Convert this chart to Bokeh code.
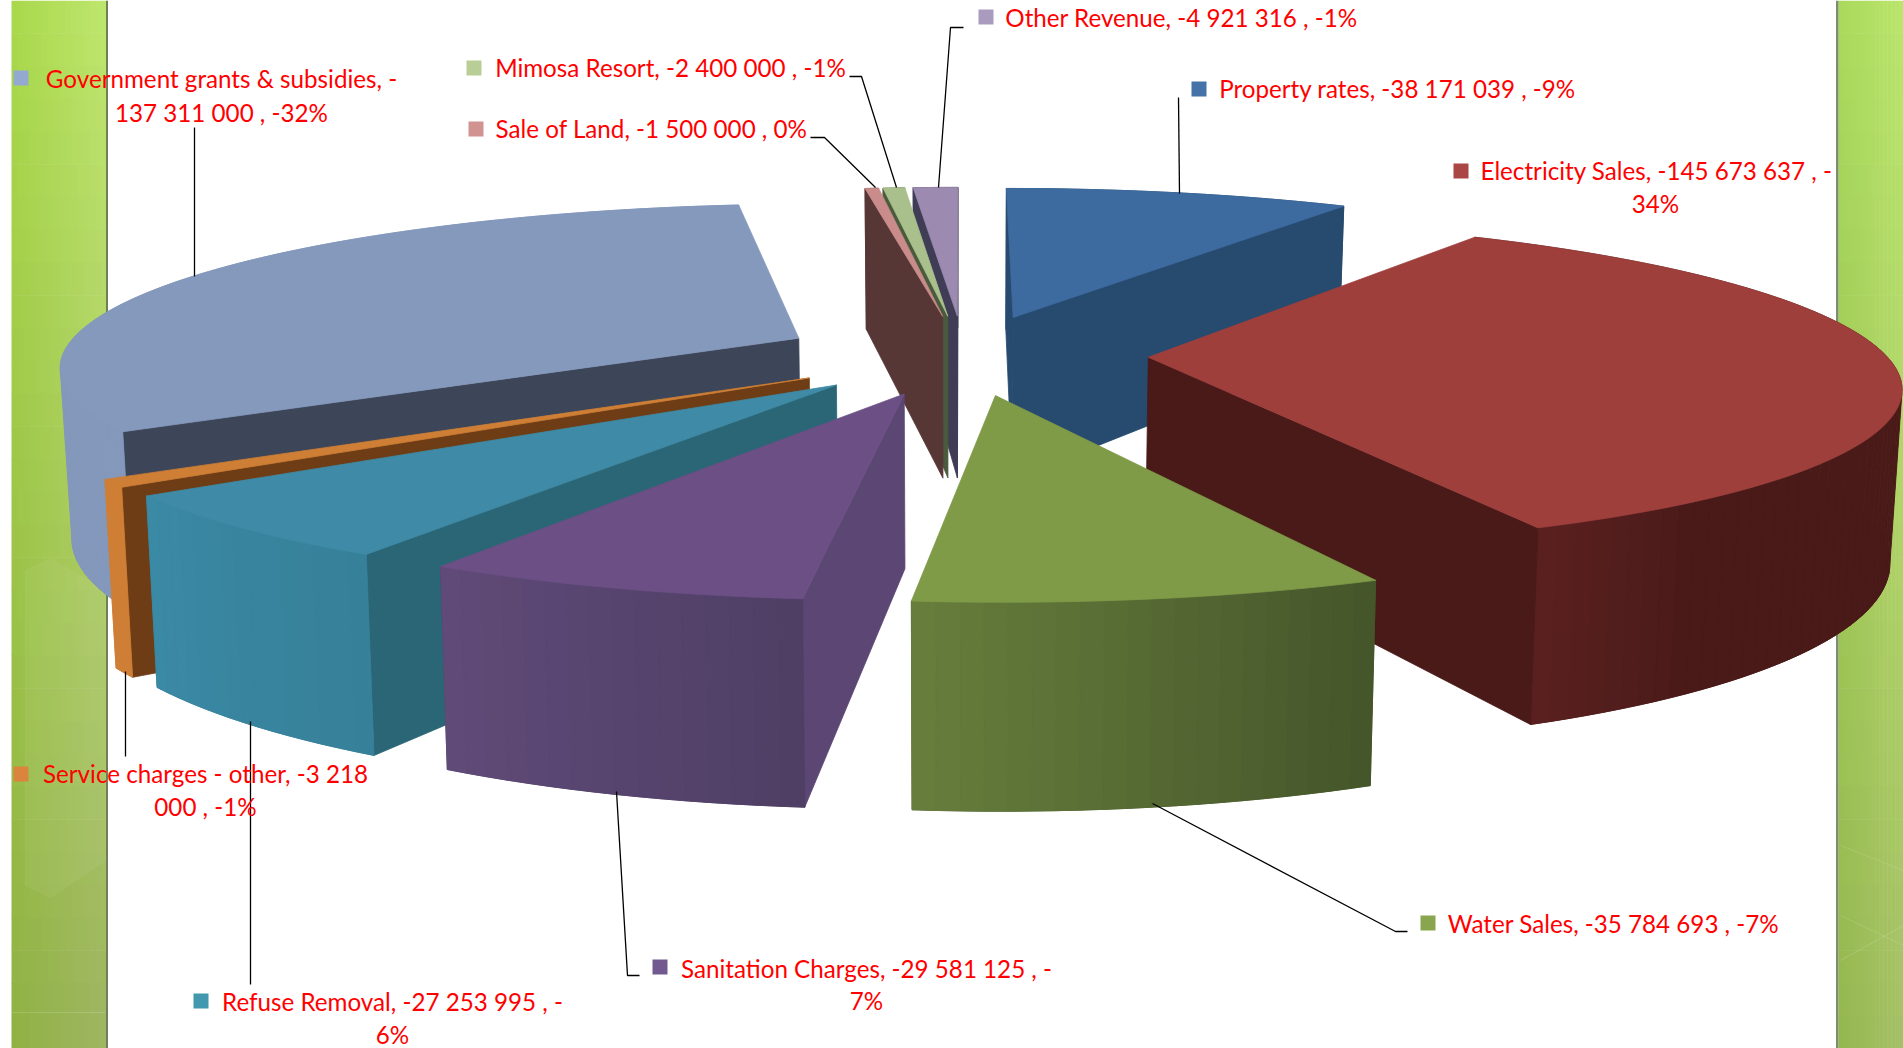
import math
from bokeh.plotting import figure
from bokeh.models import Range1d
from bokeh.core.properties import value
from bokeh.embed import file_html
from bokeh.resources import INLINE

# Revenue categories, clockwise from twelve o'clock
categories = ["Property rates", "Electricity Sales", "Water Sales", "Sanitation Charges",
              "Refuse Removal", "Service charges - other", "Government grants & subsidies",
              "Sale of Land", "Mimosa Resort", "Other Revenue"]
amounts = [-38171039, -145673637, -35784693, -29581125, -27253995,
           -3218000, -137311000, -1500000, -2400000, -4921316]
amount_labels = ["-38 171 039", "-145 673 637", "-35 784 693", "-29 581 125", "-27 253 995",
                 "-3 218 000", "-137 311 000", "-1 500 000", "-2 400 000", "-4 921 316"]
percent_labels = ["-9%", "-34%", "-7%", "-7%", "-6%", "-1%", "-32%", "0%", "-1%", "-1%"]

# Colours per slice: legend key, top face, radial wall, outer wall start and end
key_colors = ["#4572a7", "#aa4643", "#89a54e", "#71588f", "#4198af",
              "#db843d", "#93a9cf", "#d19392", "#b9cd96", "#a99bbd"]
top_colors = ["#3e6b9f", "#9e3f3c", "#7f9b48", "#6b4f85", "#3f8aa6",
              "#cf7f35", "#8599bd", "#c98c8a", "#a9c08c", "#9c8ab0"]
side_colors = ["#274a6f", "#4a1a18", "#46572a", "#5b4674", "#2a6676",
               "#6e3d15", "#3d4558", "#573636", "#4a5a3c", "#3f3c55"]
rim_colors = [("#274a6f", "#274a6f"), ("#5a2020", "#4a1a19"), ("#667d3c", "#45562a"),
              ("#604a78", "#4f3f65"), ("#3a89a5", "#378099"), ("#cf7f35", "#cf7f35"),
              ("#8296bf", "#8498bc"), ("#573636", "#573636"), ("#4a5a3c", "#4a5a3c"),
              ("#3f3c55", "#3f3c55")]
# Share of the rim width over which the shading fades, measured from its left end
rim_fade = [1, 0.1, 1, 1, 1, 1, 1, 1, 1, 1]

# Painter's order of the slices, far ones first
draw_order = [0, 1, 9, 8, 7, 6, 5, 4, 3, 2]

# Perspective camera and the exploded pie on the ground plane
CX, HORIZON, FOCAL, DEPTH = 961.0, -667.5, 4709.0, 1213.6
CENTER_U, CENTER_V = 0.0006, 1.188
EXPLODE, RADIUS = 0.0465, 0.186
DROP, PINCH = 1.1646, 0.987


def project(u, v, lower=False):
    sx = CX + FOCAL * u / v
    d = DEPTH / v
    if lower:
        sx = CX + PINCH * (sx - CX)
        d *= DROP
    return sx, HORIZON + d


def mix(a, b, t):
    ca = [int(a[i:i + 2], 16) for i in (1, 3, 5)]
    cb = [int(b[i:i + 2], 16) for i in (1, 3, 5)]
    return "#%02x%02x%02x" % tuple(round(x + (y - x) * t) for x, y in zip(ca, cb))


def signed_area(xs, ys):
    return sum(xs[i] * ys[(i + 1) % len(xs)] - xs[(i + 1) % len(xs)] * ys[i] for i in range(len(xs))) / 2


magnitudes = [abs(a) for a in amounts]
total = sum(magnitudes)
poly_x, poly_y, poly_c = [], [], []
start = 0.0
spans = []
for m in magnitudes:
    spans.append((start, start + 360.0 * m / total))
    start += 360.0 * m / total

for i in draw_order:
    a0, a1 = spans[i]
    mid = math.radians((a0 + a1) / 2)
    au = CENTER_U + EXPLODE * math.sin(mid)
    av = CENTER_V + EXPLODE * math.cos(mid)
    n = max(int((a1 - a0) / 1.5), 2)
    world = [(au, av)]
    for k in range(n + 1):
        t = math.radians(a0 + (a1 - a0) * k / n)
        world.append((au + RADIUS * math.sin(t), av + RADIUS * math.cos(t)))
    top = [project(u, v) for u, v in world]
    low = [project(u, v, True) for u, v in world]
    top_x = [q[0] for q in top]
    top_y = [q[1] for q in top]
    orient = signed_area(top_x, top_y)
    count = len(world)
    # solid rim underneath, so the shaded facets leave no seams
    poly_x.append(top_x[1:] + [q[0] for q in low[:0:-1]])
    poly_y.append(top_y[1:] + [q[1] for q in low[:0:-1]])
    poly_c.append(rim_colors[i][1])
    for k in range(count):
        j = (k + 1) % count
        qx = [top[k][0], top[j][0], low[j][0], low[k][0]]
        qy = [top[k][1], top[j][1], low[j][1], low[k][1]]
        if signed_area(qx, qy) * orient >= 0:
            continue
        if k == 0 or k == count - 1:
            colour = side_colors[i]
        else:
            # rim shading runs left to right across the screen
            frac = (k - 1) / max(n - 1, 1)
            along = frac if qx[0] < qx[1] else 1 - frac
            colour = mix(rim_colors[i][0], rim_colors[i][1], min(1, along / rim_fade[i]))
        poly_x.append(qx)
        poly_y.append(qy)
        poly_c.append(colour)
    poly_x.append(top_x)
    poly_y.append(top_y)
    poly_c.append(top_colors[i])

p = figure(width=1903, height=1048, output_backend="svg", toolbar_location=None,
           x_range=Range1d(0, 1903), y_range=Range1d(1048, 0), min_border=0)
p.axis.visible = False
p.grid.visible = False
p.outline_line_color = None
p.background_fill_color = "white"
p.border_fill_color = "white"


# Green side bands of the slide
def band(x0, x1, tl, tr, bl, br, cols=16, rows=32):
    ql, qr, qt, qb, qc = [], [], [], [], []
    for r in range(rows):
        ty_ = (r + 0.5) / rows
        left, right = mix(tl, bl, ty_), mix(tr, br, ty_)
        for c in range(cols):
            ql.append(x0 + (x1 - x0) * c / cols)
            qr.append(x0 + (x1 - x0) * (c + 1) / cols + 0.5)
            qt.append(1048 * r / rows)
            qb.append(1048 * (r + 1) / rows + 0.5)
            qc.append(mix(left, right, (c + 0.5) / cols))
    p.quad(left=ql, right=qr, top=qt, bottom=qb, fill_color=qc, line_color=None)


band(11, 107, "#a9d94b", "#bfe76e", "#8fb144", "#9fb462")
band(1838, 1903, "#a9da5c", "#bbe66c", "#94b650", "#a6c066")
p.patch([25, 50, 105, 105, 50, 25], [570, 558, 590, 860, 897, 885], fill_color="white",
        fill_alpha=0.05, line_color="white", line_alpha=0.05)
p.segment([11, 1840], [1012, 960], [105, 1903], [1012, 925], line_color="white", line_alpha=0.15)
p.segment([1840, 1840], [915, 845], [1903, 1903], [945, 870], line_color="white", line_alpha=0.12)
p.quad(left=[105.5, 1835.5], right=[107.5, 1838], top=[0, 0], bottom=[1048, 1048],
       fill_color=["#6f7f58", "#7c8f68"], line_color=None)

p.patches(poly_x, poly_y, fill_color=poly_c, line_color=poly_c, line_width=0.8)

# Leader lines from the labels to the slices
leader_x = [[194, 194], [125, 125], [250, 250], [616, 627, 639], [1152, 1395, 1407],
            [1179, 1178], [938, 950, 963], [896, 861, 849], [875, 824, 810]]
leader_y = [[127, 276], [671, 756], [721, 984], [791, 975, 975], [803, 931, 931],
            [193, 97], [187, 27, 27], [187, 76, 76], [187, 137, 137]]
p.multi_line(leader_x, leader_y, line_color="black", line_width=1.3)

# Label layout: key square, then one or two centred text lines
layout = {
    "Property rates": (1191, 81, [(1397, 88)]),
    "Electricity Sales": (1453, 163, [(1656, 170), (1655, 203)]),
    "Water Sales": (1420, 915, [(1613, 923)]),
    "Sanitation Charges": (652, 959, [(866, 968), (866, 1000)]),
    "Refuse Removal": (193, 993, [(392, 1001), (392, 1034)]),
    "Service charges - other": (13, 766, [(205, 773), (205, 806)]),
    "Government grants & subsidies": (13, 70, [(221, 78), (221, 112)]),
    "Sale of Land": (468, 121, [(651, 128)]),
    "Mimosa Resort": (466, 60, [(670, 67)]),
    "Other Revenue": (978, 9, [(1181, 17)]),
}
tx, ty, tt = [], [], []
kx, ky, kc = [], [], []
for name, amt, pct, col in zip(categories, amount_labels, percent_labels, key_colors):
    key_x, key_y, lines = layout[name]
    kx.append(key_x)
    ky.append(key_y)
    kc.append(col)
    if len(lines) == 1:
        rows = [f"{name}, {amt} , {pct}"]
    elif name == "Service charges - other":
        head, tail = amt.rsplit(" ", 1)
        rows = [f"{name}, {head}", f"{tail} , {pct}"]
    elif name == "Government grants & subsidies":
        rows = [f"{name}, -", f"{amt[1:]} , {pct}"]
    else:
        rows = [f"{name}, {amt} , -", pct[1:]]
    for (lx, ly), row in zip(lines, rows):
        tx.append(lx)
        ty.append(ly)
        tt.append(row)

p.quad(left=kx, right=[x + 15 for x in kx], top=ky, bottom=[y + 15 for y in ky],
       fill_color=kc, line_color=None)
p.text(tx, ty, text=tt, text_color="#ff0000", text_font=value("Lato"), text_font_size="24.2px",
       text_align="center", text_baseline="middle")

open("out.html", "w").write(file_html(p, INLINE))
